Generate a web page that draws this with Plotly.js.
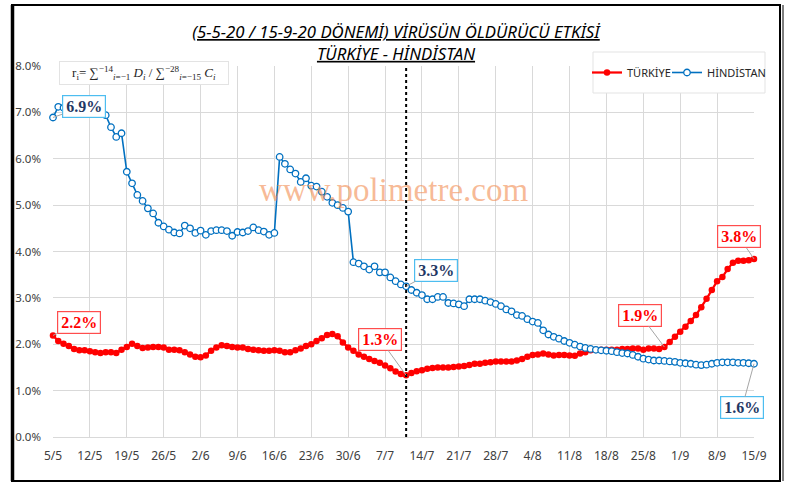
<!DOCTYPE html>
<html>
<head>
<meta charset="utf-8">
<script src="https://cdn.plot.ly/plotly-3.0.1.min.js"></script>
<style>
  html, body { margin: 0; padding: 0; background: #ffffff; }
  #chart { width: 786px; height: 483px; }
</style>
</head>
<body>
<div id="chart"></div>
<script>
// ---- data ----
const startDate = '2020-05-05';
const cutoffDate = '2020-07-11';

const turkey = [
  2.19,2.07,2.01,1.96,1.90,1.87,1.87,1.85,1.83,1.81,
  1.83,1.83,1.81,1.88,1.94,2.01,1.96,1.92,1.93,1.94,
  1.94,1.93,1.88,1.88,1.87,1.83,1.78,1.73,1.72,1.76,
  1.86,1.93,1.98,1.96,1.94,1.93,1.93,1.90,1.88,1.87,
  1.86,1.86,1.87,1.86,1.83,1.83,1.87,1.91,1.96,2.00,
  2.07,2.13,2.20,2.22,2.17,2.04,1.93,1.86,1.78,1.73,
  1.68,1.64,1.60,1.54,1.48,1.41,1.36,1.33,1.38,1.42,
  1.44,1.47,1.49,1.50,1.50,1.50,1.51,1.52,1.53,1.55,
  1.58,1.58,1.60,1.61,1.63,1.63,1.63,1.63,1.65,1.68,
  1.73,1.77,1.78,1.80,1.78,1.76,1.77,1.77,1.76,1.75,
  1.80,1.83,1.87,1.88,1.88,1.88,1.88,1.88,1.90,1.90,
  1.91,1.91,1.88,1.91,1.91,1.90,1.94,2.05,2.16,2.27,
  2.38,2.50,2.63,2.80,2.98,3.17,3.36,3.45,3.62,3.76,
  3.80,3.80,3.81,3.84
];

const india = [
  6.89,7.12,7.10,7.06,7.10,7.05,7.02,7.05,7.00,6.97,
  6.94,6.68,6.47,6.55,5.72,5.47,5.22,5.09,4.93,4.82,
  4.62,4.54,4.47,4.41,4.39,4.56,4.50,4.40,4.45,4.36,
  4.44,4.46,4.46,4.44,4.34,4.42,4.41,4.44,4.52,4.46,
  4.43,4.36,4.40,6.04,5.89,5.77,5.68,5.50,5.58,5.42,
  5.40,5.29,5.18,5.05,5.00,4.94,4.86,3.77,3.74,3.68,
  3.61,3.68,3.55,3.55,3.44,3.36,3.29,3.25,3.17,3.11,
  3.06,2.97,2.97,3.02,3.02,2.89,2.88,2.86,2.82,2.97,
  2.97,2.97,2.94,2.91,2.87,2.82,2.75,2.71,2.63,2.61,
  2.54,2.49,2.46,2.30,2.21,2.16,2.12,2.07,2.03,1.99,
  1.95,1.92,1.90,1.88,1.87,1.86,1.85,1.83,1.81,1.80,
  1.77,1.73,1.69,1.67,1.65,1.65,1.64,1.63,1.62,1.60,
  1.59,1.58,1.56,1.55,1.56,1.58,1.60,1.61,1.61,1.61,
  1.60,1.60,1.59,1.58
];

const tickLabels = ['5/5','12/5','19/5','26/5','2/6','9/6','16/6','23/6','30/6','7/7',
                    '14/7','21/7','28/7','4/8','11/8','18/8','25/8','1/9','8/9','15/9'];

const seriesNames = ['TÜRKİYE', 'HİNDİSTAN'];
const titleLines = ['(5-5-20 / 15-9-20 DÖNEMİ) VİRÜSÜN ÖLDÜRÜCÜ ETKİSİ', 'TÜRKİYE - HİNDİSTAN'];
const watermark = 'www.polimetre.com';
const formulaText = 'r<sub>i</sub>= ∑<sup>−14</sup><sub><i>i</i>=−1</sub> <i>D<sub>i</sub></i> / ∑<sup>−28</sup><sub><i>i</i>=−15</sub> <i>C<sub>i</sub></i>';

// label points: [series, index, ax, ay]
const labelPoints = [
  ['india', 0, 31, -11],
  ['turkey', 0, 26, -13],
  ['turkey', 67, -26, -36],
  ['india', 67, 30, -16],
  ['turkey', 116, -24, -32],
  ['turkey', 133, -15, -22],
  ['india', 133, -12, 44]
];

// ---- build dates ----
const [sy, sm, sd] = startDate.split('-').map(Number);
const dates = turkey.map((_, i) => {
  const d = new Date(Date.UTC(sy, sm - 1, sd + i));
  return d.toISOString().slice(0, 10);
});
const tickVals = tickLabels.map((_, k) => dates[k * 7]);

const RED = '#ff0000';
const BLUE = '#0070c0';

const traces = [
  {
    x: dates, y: turkey, name: seriesNames[0], type: 'scatter', mode: 'lines+markers',
    line: { color: RED, width: 2.25 },
    marker: { color: RED, size: 6.5, symbol: 'circle' },
    cliponaxis: false, hoverinfo: 'skip', legend: 'legend'
  },
  {
    x: dates, y: india, name: seriesNames[1], type: 'scatter', mode: 'lines+markers',
    line: { color: BLUE, width: 1.6 },
    marker: { color: '#ffffff', size: 6.5, symbol: 'circle', line: { color: BLUE, width: 1.3 } },
    cliponaxis: false, hoverinfo: 'skip', legend: 'legend2'
  }
];

const seriesMap = { turkey: turkey, india: india };
const labelAnns = labelPoints.map(([s, i, ax, ay]) => {
  const isRed = s === 'turkey';
  return {
    x: dates[i], y: seriesMap[s][i], xref: 'x', yref: 'y',
    text: '<b>' + seriesMap[s][i].toFixed(1) + '%</b>',
    showarrow: true, arrowhead: 0, arrowwidth: 1, arrowcolor: '#a6a6a6',
    ax: ax, ay: ay,
    font: { family: 'Liberation Serif, Times New Roman, serif', size: 16, color: isRed ? RED : '#1f3864' },
    bgcolor: '#ffffff', bordercolor: isRed ? '#ff4d4d' : '#4dbdf0', borderwidth: 1.2,
    width: 40, height: 19, borderpad: 1
  };
});

// paper coordinate helpers (plot area: left 53, right 754, top 66, bottom 437)
const PL = 53, PR = 754, PT = 66, PB = 437;
const px = X => (X - PL) / (PR - PL);
const py = Y => (PB - Y) / (PB - PT);

const legendCommon = {
  orientation: 'h', y: py(72.5), xanchor: 'left', yanchor: 'middle',
  bgcolor: 'rgba(0,0,0,0)', borderwidth: 0,
  font: { size: 11, color: '#262626' },
  itemwidth: 30
};

const layout = {
  width: 786, height: 483,
  margin: { l: PL, r: 786 - PR, t: PT, b: 483 - PB, pad: 0, autoexpand: false },
  paper_bgcolor: '#ffffff', plot_bgcolor: '#ffffff',
  font: { family: 'Noto Sans, Open Sans, sans-serif', color: '#404040' },
  title: {
    text: titleLines.join('<br>'),
    x: 396 / 786, xref: 'container', xanchor: 'center',
    y: 1 - 38 / 483, yref: 'container', yanchor: 'middle',
    font: { family: 'Noto Sans, Open Sans, sans-serif', size: 16.8, color: '#000000', style: 'italic', lineposition: 'under' }
  },
  showlegend: true,
  legend: Object.assign({ x: px(587) }, legendCommon),
  legend2: Object.assign({ x: px(667) }, legendCommon),
  xaxis: {
    type: 'date', range: [dates[0], dates[dates.length - 1]],
    tickmode: 'array', tickvals: tickVals, ticktext: tickLabels,
    showgrid: true, gridcolor: '#d9d9d9', gridwidth: 1,
    showline: false, zeroline: false, ticks: '',
    tickfont: { size: 12, color: '#404040' }, ticklabelstandoff: 10,
    automargin: false, fixedrange: true
  },
  yaxis: {
    range: [0, 8], dtick: 1, tick0: 0, tickformat: '.1f', ticksuffix: '%',
    showgrid: true, gridcolor: '#d9d9d9', gridwidth: 1,
    zeroline: true, zerolinecolor: '#d9d9d9', zerolinewidth: 1,
    showline: false, ticks: '',
    tickfont: { size: 11.5, color: '#404040' }, ticklabelstandoff: 11,
    automargin: false, fixedrange: true
  },
  shapes: [
    { type: 'line', xref: 'x', yref: 'y', x0: cutoffDate, x1: cutoffDate, y0: 0, y1: 8,
      line: { color: '#000000', width: 2, dash: 'dot' }, layer: 'above' },
    // legend box
    { type: 'rect', xref: 'paper', yref: 'paper', x0: px(593), x1: px(765), y0: py(93), y1: py(52),
      line: { color: '#e3e3e3', width: 1 }, fillcolor: '#ffffff', layer: 'above' },
    // outer frame
    { type: 'rect', xref: 'paper', yref: 'paper', x0: px(12), x1: px(780), y0: py(481), y1: py(5),
      line: { color: '#000000', width: 2 }, fillcolor: 'rgba(0,0,0,0)', layer: 'above' },
    { type: 'line', xref: 'paper', yref: 'paper', x0: px(12.5), x1: px(12.5), y0: py(481), y1: py(5),
      line: { color: '#000000', width: 3.5 }, layer: 'above' },
    { type: 'line', xref: 'paper', yref: 'paper', x0: px(783), x1: px(783), y0: py(481), y1: py(5),
      line: { color: '#000000', width: 1 }, layer: 'above' }
  ],
  annotations: [
    {
      x: px(393), y: py(190), xref: 'paper', yref: 'paper', showarrow: false,
      text: watermark,
      font: { family: 'Liberation Serif, Times New Roman, serif', size: 33, color: 'rgba(242,140,80,0.6)' }
    },
    {
      x: px(143.5), y: py(73), xref: 'paper', yref: 'paper', showarrow: false,
      xanchor: 'center', yanchor: 'middle',
      text: formulaText, width: 166, height: 20, borderpad: 1,
      bgcolor: '#ffffff', bordercolor: '#e3e3e3', borderwidth: 1,
      font: { family: 'Liberation Serif, DejaVu Serif, serif', size: 13, color: '#262626' }
    }
  ].concat(labelAnns)
};

Plotly.newPlot('chart', traces, layout, { displayModeBar: false, staticPlot: true });
</script>
</body>
</html>
